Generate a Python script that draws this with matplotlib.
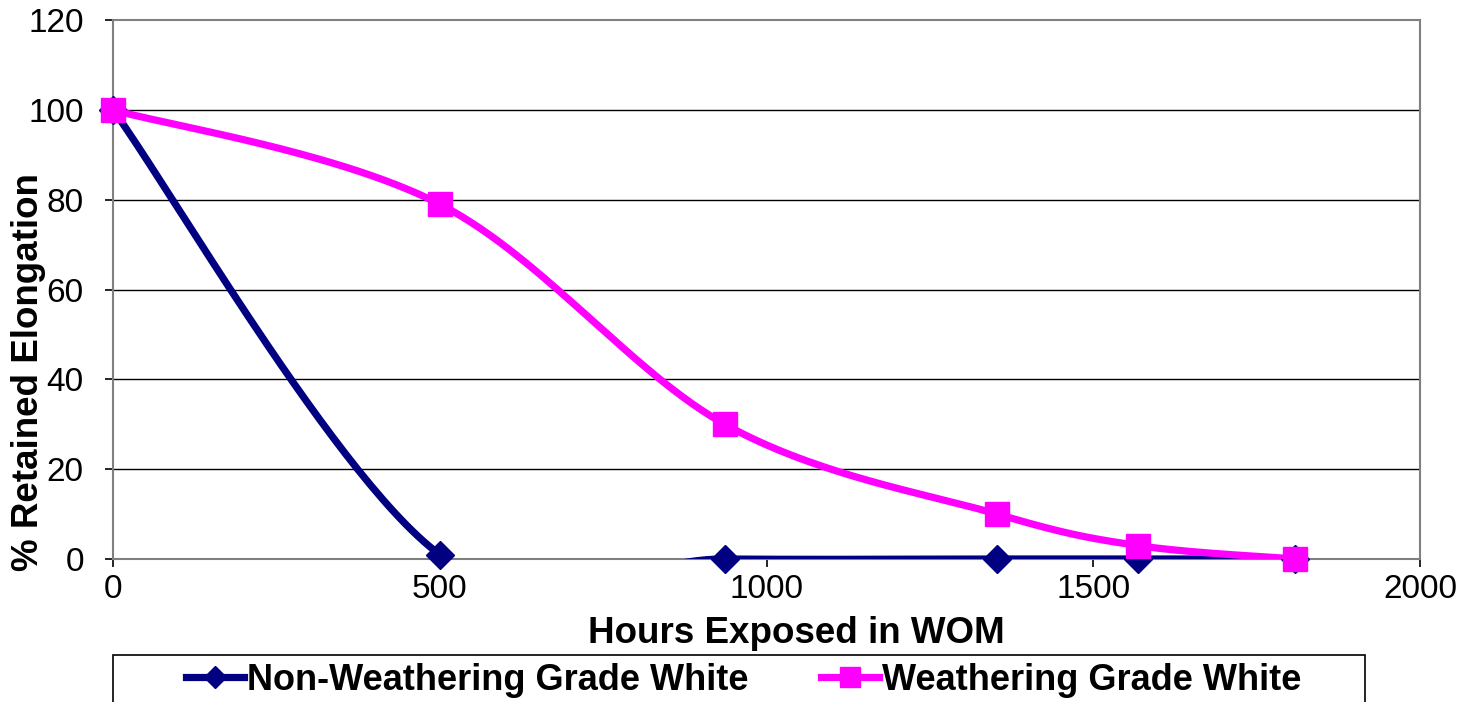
import numpy as np
import matplotlib
matplotlib.use("Agg")
import matplotlib.pyplot as plt
from matplotlib.lines import Line2D
from matplotlib.patches import Rectangle

plt.rcParams['font.family'] = ['Liberation Sans', 'DejaVu Sans']

hours = [0, 500, 936, 1353, 1568, 1809]
non_weathering = [100, 1, 0, 0, 0, 0]
weathering = [100, 79, 30, 10, 3, 0]
series_names = ["Non-Weathering Grade White", "Weathering Grade White"]
x_ticks = [0, 500, 1000, 1500, 2000]
y_ticks = [0, 20, 40, 60, 80, 100, 120]

NAVY = "#000080"
MAGENTA = "#FF00FF"


def excel_smooth(xs, ys, n=60):
    P = np.column_stack([xs, ys]).astype(float)
    out = []
    for i in range(len(P) - 1):
        p0 = P[i - 1] if i > 0 else P[i]
        p1 = P[i]
        p2 = P[i + 1]
        p3 = P[i + 2] if i + 2 < len(P) else P[i + 1]
        c1 = p1 + (p2 - p0) / 6.0
        c2 = p2 - (p3 - p1) / 6.0
        t = np.linspace(0, 1, n)[:, None]
        seg = ((1 - t) ** 3) * p1 + 3 * ((1 - t) ** 2) * t * c1 + 3 * (1 - t) * t ** 2 * c2 + t ** 3 * p2
        out.append(seg if i == 0 else seg[1:])
    out = np.vstack(out)
    return out[:, 0], out[:, 1]


fig = plt.figure(figsize=(14.74, 7.02), dpi=100)
W, H = 1474, 702
left, right, top, bottom = 113, 1420, 20, 559
ax = fig.add_axes([left / W, 1 - bottom / H, (right - left) / W, (bottom - top) / H])
ax.set_xlim(0, 2000)
ax.set_ylim(0, 120)

for y in y_ticks[1:-1]:
    ax.axhline(y, color='black', lw=1.0, zorder=1)

for sp in ax.spines.values():
    sp.set_color('#808080')
    sp.set_linewidth(1.5)

LW = 5.2
bx, by = excel_smooth(hours, non_weathering)
ax.plot(bx, by, color=NAVY, lw=LW, zorder=3, solid_capstyle='butt')
ax.plot(hours, non_weathering, ls='none', marker='D', ms=14, color=NAVY, zorder=4, clip_on=False)

px, py = excel_smooth(hours, weathering)
ax.plot(px, py, color=MAGENTA, lw=LW, zorder=5, solid_capstyle='butt')
ax.plot(hours, weathering, ls='none', marker='s', ms=17.5, color=MAGENTA, zorder=6, clip_on=False)

ax.set_xticks(x_ticks)
ax.set_yticks(y_ticks)
ax.tick_params(axis='both', labelsize=24, direction='out', length=6, width=1.2, color='black')
ax.tick_params(axis='y', pad=15)
ax.tick_params(axis='x', pad=5)

ax.set_xlabel("Hours Exposed in WOM", fontsize=26.5, fontweight='bold')
ax.set_ylabel("% Retained Elongation", fontsize=26.5, fontweight='bold')
ax.xaxis.set_label_coords((796 - left) / (right - left), -(616 - bottom) / (bottom - top))
ax.yaxis.set_label_coords(-(113 - 46) / (right - left), (bottom - 372) / (bottom - top))

# legend box
fig.patches.append(Rectangle((113 / W, -0.05), (1365 - 113) / W, (1 - 655 / H) + 0.05,
                             transform=fig.transFigure, fill=False, edgecolor='black', lw=1.2))
handles = [Line2D([], [], color=NAVY, lw=LW, marker='D', ms=11),
           Line2D([], [], color=MAGENTA, lw=LW, marker='s', ms=15)]
fig.legend(handles, series_names, loc='center left', bbox_to_anchor=(186 / W, 1 - 680 / H),
           frameon=False, ncol=2, prop={'weight': 'bold', 'size': 26},
           handlelength=1.6, handletextpad=0.1, columnspacing=2.0, borderpad=0, borderaxespad=0)

fig.savefig("out.png", dpi=100, facecolor='white')
